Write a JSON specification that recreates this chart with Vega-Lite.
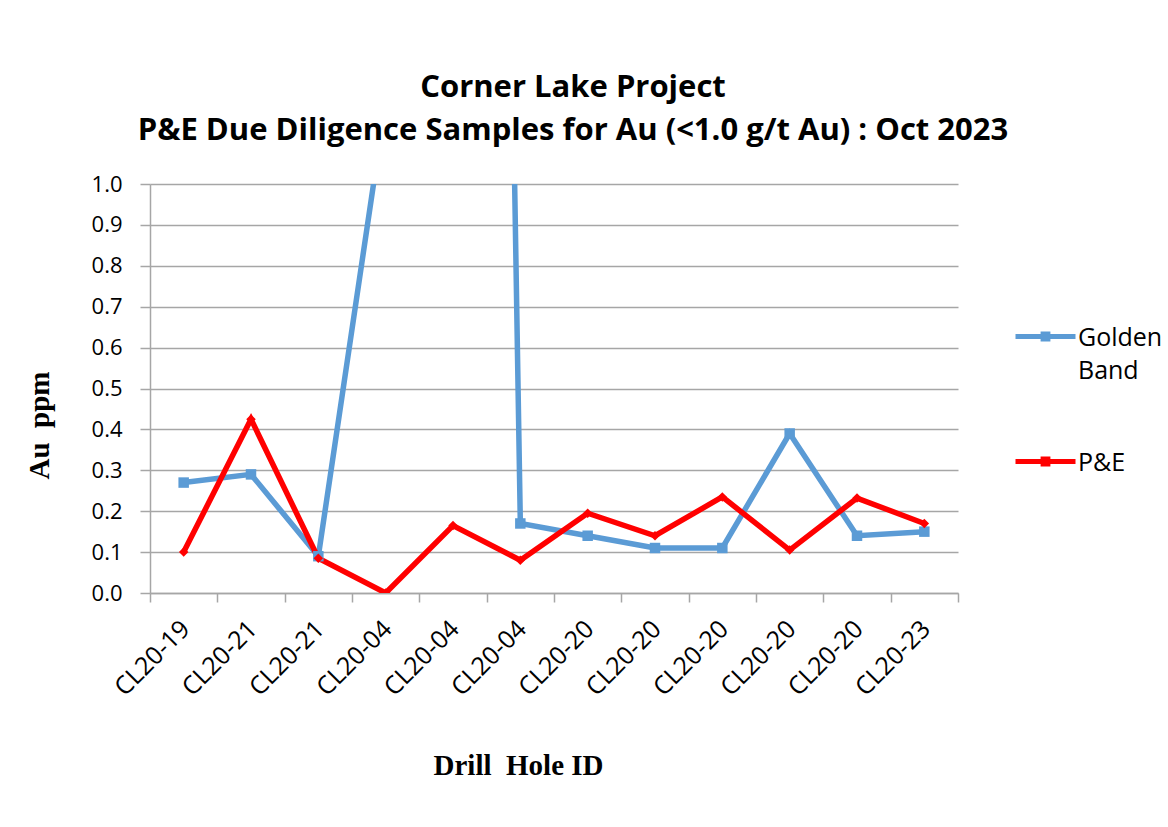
{
  "$schema": "https://vega.github.io/schema/vega-lite/v6.json",
  "autosize": "none",
  "width": 808,
  "height": 409,
  "padding": {"left": 150, "top": 184, "right": 210, "bottom": 234},
  "background": "white",
  "title": {
    "text": ["Corner Lake Project", "P&E Due Diligence Samples for Au (<1.0 g/t Au) : Oct 2023"],
    "font": "Open Sans",
    "fontSize": 31,
    "fontWeight": "bold",
    "lineHeight": 43,
    "anchor": "middle",
    "dx": 19,
    "offset": 26,
    "color": "#000000"
  },
  "data": {
    "values": [
      {"key": "01|CL20-19", "hole": "CL20-19", "series": "Golden Band", "au": 0.27},
      {"key": "02|CL20-21", "hole": "CL20-21", "series": "Golden Band", "au": 0.29},
      {"key": "03|CL20-21", "hole": "CL20-21", "series": "Golden Band", "au": 0.09},
      {"key": "04|CL20-04", "hole": "CL20-04", "series": "Golden Band", "au": 1.2},
      {"key": "05|CL20-04", "hole": "CL20-04", "series": "Golden Band", "au": 10.0},
      {"key": "06|CL20-04", "hole": "CL20-04", "series": "Golden Band", "au": 0.17},
      {"key": "07|CL20-20", "hole": "CL20-20", "series": "Golden Band", "au": 0.14},
      {"key": "08|CL20-20", "hole": "CL20-20", "series": "Golden Band", "au": 0.11},
      {"key": "09|CL20-20", "hole": "CL20-20", "series": "Golden Band", "au": 0.11},
      {"key": "10|CL20-20", "hole": "CL20-20", "series": "Golden Band", "au": 0.39},
      {"key": "11|CL20-20", "hole": "CL20-20", "series": "Golden Band", "au": 0.14},
      {"key": "12|CL20-23", "hole": "CL20-23", "series": "Golden Band", "au": 0.15},
      {"key": "01|CL20-19", "hole": "CL20-19", "series": "P&E", "au": 0.10},
      {"key": "02|CL20-21", "hole": "CL20-21", "series": "P&E", "au": 0.425},
      {"key": "03|CL20-21", "hole": "CL20-21", "series": "P&E", "au": 0.085},
      {"key": "04|CL20-04", "hole": "CL20-04", "series": "P&E", "au": 0.0},
      {"key": "05|CL20-04", "hole": "CL20-04", "series": "P&E", "au": 0.165},
      {"key": "06|CL20-04", "hole": "CL20-04", "series": "P&E", "au": 0.08},
      {"key": "07|CL20-20", "hole": "CL20-20", "series": "P&E", "au": 0.195},
      {"key": "08|CL20-20", "hole": "CL20-20", "series": "P&E", "au": 0.14},
      {"key": "09|CL20-20", "hole": "CL20-20", "series": "P&E", "au": 0.235},
      {"key": "10|CL20-20", "hole": "CL20-20", "series": "P&E", "au": 0.105},
      {"key": "11|CL20-20", "hole": "CL20-20", "series": "P&E", "au": 0.232},
      {"key": "12|CL20-23", "hole": "CL20-23", "series": "P&E", "au": 0.17}
    ]
  },
  "encoding": {
    "x": {
      "field": "key",
      "type": "ordinal",
      "bandPosition": 0.5,
      "scale": {"type": "band", "paddingInner": 0, "paddingOuter": 0},
      "axis": {
        "title": "Drill\u00a0 Hole ID",
        "titleFont": "Liberation Serif",
        "titleFontSize": 29,
        "titleFontWeight": "bold",
        "titleColor": "#000000",
        "titleX": 368,
        "titleY": 181,
        "titleAlign": "center",
        "titleBaseline": "alphabetic",
        "labelExpr": "split(datum.label, '|')[1]",
        "labelAngle": -45,
        "labelFont": "Open Sans",
        "labelFontSize": 25,
        "labelColor": "#000000",
        "labelPadding": 14,
        "labelOffset": -7,
        "tickBand": "extent",
        "tickSize": 9,
        "tickColor": "#A6A6A6",
        "tickWidth": 1.5,
        "domainColor": "#A6A6A6",
        "domainWidth": 1.5,
        "grid": false
      }
    },
    "y": {
      "field": "au",
      "type": "quantitative",
      "scale": {"domain": [0, 1], "nice": false, "zero": true},
      "axis": {
        "title": "Au\u00a0 ppm",
        "titleFont": "Liberation Serif",
        "titleFontSize": 29,
        "titleFontWeight": "bold",
        "titleColor": "#000000",
        "titleX": -102,
        "titleY": 241,
        "titleAlign": "center",
        "titleBaseline": "alphabetic",
        "titleAngle": -90,
        "values": [0, 0.1, 0.2, 0.3, 0.4, 0.5, 0.6, 0.7, 0.8, 0.9, 1.0],
        "format": ".1f",
        "labelFont": "Open Sans",
        "labelFontSize": 22,
        "labelColor": "#000000",
        "labelPadding": 18,
        "tickSize": 10,
        "tickColor": "#A6A6A6",
        "tickWidth": 1.5,
        "domainColor": "#A6A6A6",
        "domainWidth": 1.5,
        "grid": true,
        "gridColor": "#A6A6A6",
        "gridWidth": 1.5
      }
    },
    "color": {
      "field": "series",
      "type": "nominal",
      "scale": {"domain": ["Golden Band", "P&E"], "range": ["#5B9BD5", "#FF0000"]},
      "legend": {
        "title": null,
        "orient": "none",
        "legendX": 863,
        "legendY": 129,
        "symbolType": "M-1,-0.3L1,-0.3M-0.08,-0.38L0.08,-0.38L0.08,-0.22L-0.08,-0.22Z",
        "symbolSize": 3600,
        "symbolStrokeWidth": 5,
        "labelFont": "Open Sans",
        "labelFontSize": 25,
        "labelColor": "#000000",
        "labelBaseline": "alphabetic",
        "labelLimit": 0,
        "labelOffset": 0,
        "rowPadding": 54,
        "labelExpr": "datum.label == 'Golden Band' ? ['Golden', 'Band'] : datum.label"
      }
    }
  },
  "layer": [
    {
      "mark": {"type": "line", "strokeWidth": 5.5, "clip": true}
    },
    {
      "transform": [{"filter": "datum.series == 'Golden Band'"}],
      "mark": {"type": "point", "shape": "square", "filled": true, "opacity": 1, "size": 110, "clip": true}
    },
    {
      "transform": [{"filter": "datum.series == 'P&E'"}],
      "mark": {"type": "point", "shape": "diamond", "filled": true, "opacity": 1, "size": 90, "clip": true}
    }
  ],
  "config": {
    "view": {"stroke": null},
    "style": {"guide-label": {"lineHeight": 33}}
  }
}
